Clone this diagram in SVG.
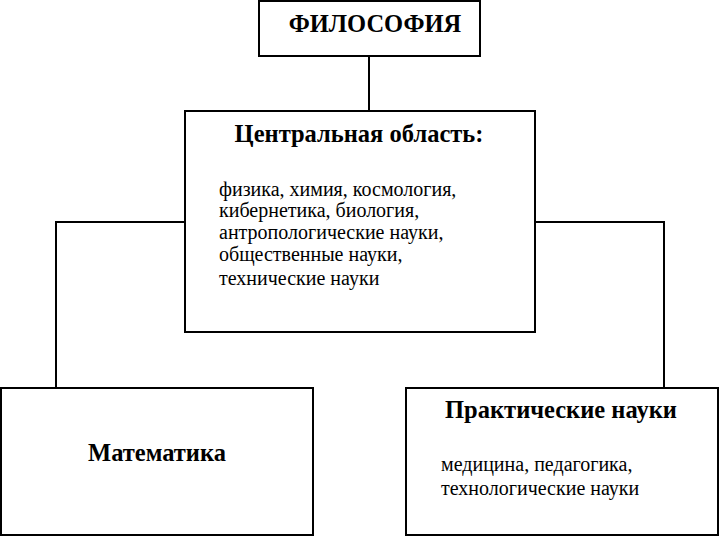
<svg xmlns="http://www.w3.org/2000/svg" width="720" height="536" viewBox="0 0 720 536">
<style>
.box{fill:#fff;stroke:#000;stroke-width:2}
.ln{fill:none;stroke:#000;stroke-width:2}
.b{font-family:"Liberation Serif","Times New Roman",serif;font-weight:bold;fill:#000;font-size:24.5px}
.t{font-family:"Liberation Serif","Times New Roman",serif;font-size:20px;fill:#000}
</style>
<rect width="720" height="536" fill="#fff"/>
<g id="connectors">
<path class="ln" d="M369,56 V111"/>
<path class="ln" d="M185,222 H56 V388"/>
<path class="ln" d="M535,222 H664 V388"/>
</g>
<g id="philosophy">
<rect class="box" x="259" y="1" width="221" height="55"/>
<text class="b" x="375" y="32" font-size="24" text-anchor="middle">ФИЛОСОФИЯ</text>
</g>
<g id="central">
<rect class="box" x="185" y="111" width="350" height="221"/>
<text class="b" x="359" y="142" text-anchor="middle">Центральная область:</text>
<text class="t" x="219" y="196">физика, химия, космология,</text>
<text class="t" x="219" y="217">кибернетика, биология,</text>
<text class="t" x="219" y="239">антропологические науки,</text>
<text class="t" x="219" y="261">общественные науки,</text>
<text class="t" x="219" y="285">технические науки</text>
</g>
<g id="math">
<rect class="box" x="1" y="388" width="312" height="147"/>
<text class="b" x="157" y="461" text-anchor="middle">Математика</text>
</g>
<g id="practical">
<rect class="box" x="406" y="388" width="312" height="147"/>
<text class="b" x="561" y="418" text-anchor="middle">Практические науки</text>
<text class="t" x="441" y="471">медицина, педагогика,</text>
<text class="t" x="441" y="495">технологические науки</text>
</g>
</svg>
